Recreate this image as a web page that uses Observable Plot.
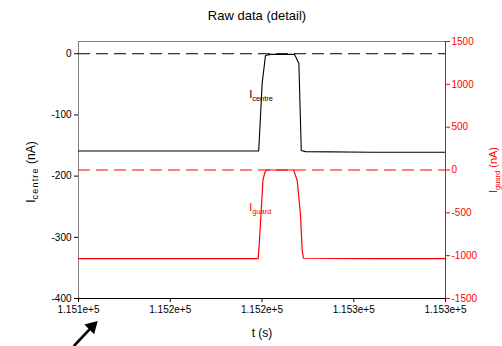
<!DOCTYPE html>
<html><head><meta charset="utf-8">
<script src="https://cdn.jsdelivr.net/npm/d3@7"></script>
<script src="https://cdn.jsdelivr.net/npm/@observablehq/plot@0.6"></script>
<style>
body{margin:0;background:#fff;font-family:"Liberation Sans",Arial,sans-serif}
svg{display:block}
</style>
</head><body><div id="chart"></div>
<script>
// ---- data ----
const title = "Raw data (detail)";
const xLabel = "t (s)";
const yLeftLabel = ["I", "centre", " (nA)"];
const yRightLabel = ["I", "guard", " (nA)"];
const centreName = ["I", "centre"];
const guardName = ["I", "guard"];

const xTicks = [115100, 115150, 115200, 115250, 115300];
const xTickLabels = ["1.151e+5", "1.152e+5", "1.152e+5", "1.153e+5", "1.153e+5"];
const leftTicks = [0, -100, -200, -300, -400];
const rightTicks = [1500, 1000, 500, 0, -500, -1000, -1500];

const centreTime  = [115100, 115150, 115197.8, 115198.2, 115200.1, 115201.9, 115204.6, 115217.7, 115220.1, 115221.4, 115223.7, 115260, 115300];
const centreValue = [-159,   -159,   -159,     -159,     -48,      -3,       -1,       -1,       -16,      -158,     -160,     -161,   -161];

const guardTime  = [115100, 115150, 115197.9, 115198.4, 115200.1, 115200.5, 115201.5, 115202.5, 115217.2, 115219.2, 115221.0, 115221.9, 115222.6, 115260, 115300];
const guardValue = [-1035,  -1035,  -1035,    -900,     -274,     -122,     -30,      0,        0,        -122,     -531,     -939,     -1030,    -1035,  -1035];

const centreLabelPos = [115193, -72];   // t, I_centre
const guardLabelPos = [115193, -480];   // t, I_guard
const arrowTail = [115097.4, -478];     // annotation arrow
const arrowHead = [115107.4, -446];

const xDomain = [115100, 115300];
const leftDomain = [-400, 20];
const rightDomain = [-1500, 1500];

// ---- build ----
const g2c = d3.scaleLinear(rightDomain, leftDomain);
const centre = centreTime.map((t, i) => ({t, v: centreValue[i]}));
const guard = guardTime.map((t, i) => ({t, v: g2c(guardValue[i])}));
const xMap = new Map(xTicks.map((d, i) => [d, xTickLabels[i]]));
const RED = "#ff0000";

const plot = Plot.plot({
  width: 502, height: 346,
  marginTop: 41, marginBottom: 48, marginLeft: 78, marginRight: 57,
  style: {fontFamily: "'Liberation Sans', Arial, sans-serif", fontSize: "10px", background: "#fff", color: "#000", overflow: "visible"},
  x: {domain: xDomain},
  y: {domain: leftDomain},
  marks: [
    Plot.ruleY([leftDomain[1]], {stroke: "#808080"}),
    Plot.ruleX([xDomain[0]], {stroke: "#808080"}),
    Plot.ruleY([0], {stroke: "#000", strokeDasharray: "12,6"}),
    Plot.ruleY([g2c(0)], {stroke: RED, strokeDasharray: "12,6"}),
    Plot.line(centre, {x: "t", y: "v", stroke: "#000", strokeWidth: 1.1}),
    Plot.line(guard, {x: "t", y: "v", stroke: RED, strokeWidth: 1.2}),
    Plot.ruleY([leftDomain[0]], {stroke: "#000"}),
    Plot.ruleX([xDomain[1]], {stroke: RED}),
    Plot.axisX(xTicks, {anchor: "bottom", tickSize: 4, tickPadding: 3, tickFormat: d => xMap.get(d), label: null, fontSize: 10}),
    Plot.axisY(leftTicks, {anchor: "left", tickSize: 4, tickPadding: 3, tickFormat: d => String(d), label: null, fontSize: 10}),
    Plot.axisY(rightTicks.map(g2c), {anchor: "right", tickSize: 4, tickPadding: 2, color: RED, tickFormat: d => String(Math.round(g2c.invert(d))), label: null, fontSize: 10}),
    Plot.text([title], {frameAnchor: "top", dy: -26, dx: -5, fontSize: 13, lineAnchor: "middle"}),
    Plot.text([xLabel], {frameAnchor: "bottom", dy: 35, fontSize: 12, lineAnchor: "middle"}),
    Plot.text([yLeftLabel.join("|")], {frameAnchor: "left", dx: -47, dy: 2, rotate: -90, fontSize: 12, textAnchor: "middle", lineAnchor: "middle"}),
    Plot.text([yRightLabel.join("|")], {frameAnchor: "right", dx: 48, dy: 0, rotate: -90, fontSize: 11, textAnchor: "middle", lineAnchor: "middle", fill: RED}),
    Plot.text([centreLabelPos], {x: d => d[0], y: d => d[1], text: () => centreName.join("|"), textAnchor: "start", lineAnchor: "bottom", fontSize: 11, fill: "#000"}),
    Plot.text([guardLabelPos], {x: d => d[0], y: d => g2c(d[1]), text: () => guardName.join("|"), textAnchor: "start", lineAnchor: "bottom", fontSize: 11, fill: RED}),
    Plot.link([[arrowTail, arrowHead]], {x1: d => d[0][0], y1: d => d[0][1], x2: d => d[1][0], y2: d => d[1][1], stroke: "#000", strokeWidth: 2.6}),
    Plot.dot([arrowHead], {x: d => d[0], y: d => d[1], symbol: "triangle2", r: 6.6, rotate: 45, fill: "#000", stroke: "none"})
  ]
});

// subscripts
d3.select(plot).selectAll("text").each(function() {
  const s = this.textContent;
  if (!s.includes("|")) return;
  const parts = s.split("|");
  const el = d3.select(this);
  const isLeftAxis = parts[1] === "centre" && parts[2];
  el.text(null);
  el.append("tspan").text(parts[0]);
  const sub = el.append("tspan").attr("font-size", isLeftAxis ? "0.75em" : "0.68em").attr("dy", "3").text(parts[1]);
  if (isLeftAxis) sub.attr("letter-spacing", "1.2");
  if (parts[2]) el.append("tspan").attr("dy", "-3").attr("letter-spacing", "0").text(parts[2]);
});

document.getElementById("chart").appendChild(plot);
</script>
</body></html>
